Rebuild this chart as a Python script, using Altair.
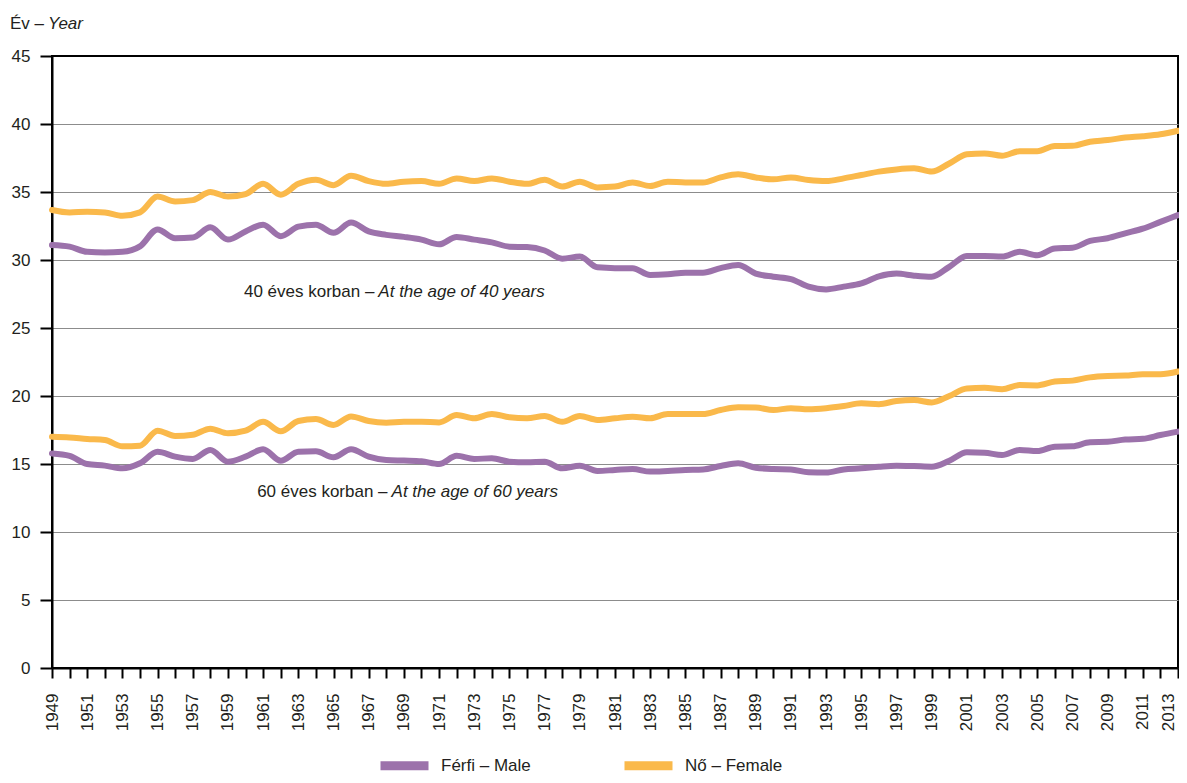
import altair as alt
import pandas as pd

# ---------------- data ----------------
years = list(range(1949, 2014))

female_40 = [33.68, 33.5, 33.55, 33.5, 33.25, 33.5, 34.66, 34.3, 34.4, 35.0,
             34.66, 34.85, 35.6, 34.8, 35.6, 35.9, 35.5, 36.2, 35.8, 35.6,
             35.76, 35.8, 35.6, 36.0, 35.8, 36.0, 35.76, 35.6, 35.9, 35.4,
             35.76, 35.34, 35.4, 35.7, 35.44, 35.76, 35.7, 35.7, 36.07, 36.3,
             36.07, 35.93, 36.07, 35.88, 35.8, 36.0, 36.25, 36.5, 36.66, 36.74,
             36.5, 37.1, 37.77, 37.84, 37.67, 38.0, 38.0, 38.38, 38.4, 38.7,
             38.82, 39.0, 39.1, 39.24, 39.5]

male_40 = [31.1, 30.98, 30.6, 30.56, 30.6, 31.0, 32.25, 31.6, 31.65, 32.4,
           31.5, 32.1, 32.6, 31.75, 32.45, 32.6, 32.0, 32.75, 32.1, 31.85,
           31.7, 31.5, 31.15, 31.7, 31.5, 31.3, 30.98, 30.95, 30.7, 30.1,
           30.25, 29.46, 29.4, 29.4, 28.9, 28.95, 29.07, 29.07, 29.4, 29.63,
           29.0, 28.77, 28.6, 28.04, 27.84, 28.04, 28.28, 28.8, 29.0, 28.85,
           28.77, 29.5, 30.3, 30.3, 30.25, 30.6, 30.35, 30.85, 30.9, 31.4,
           31.6, 31.96, 32.3, 32.8, 33.3]

female_60 = [17.0, 16.95, 16.84, 16.76, 16.3, 16.35, 17.45, 17.06, 17.15, 17.6,
             17.26, 17.45, 18.1, 17.4, 18.16, 18.3, 17.87, 18.5, 18.16, 18.04,
             18.1, 18.1, 18.06, 18.6, 18.36, 18.68, 18.43, 18.36, 18.53, 18.1,
             18.53, 18.24, 18.36, 18.48, 18.36, 18.68, 18.68, 18.68, 18.97, 19.17,
             19.15, 18.97, 19.1, 19.02, 19.1, 19.26, 19.46, 19.4, 19.63, 19.7,
             19.53, 20.0, 20.56, 20.6, 20.5, 20.8, 20.78, 21.06, 21.13, 21.37,
             21.47, 21.5, 21.6, 21.6, 21.8]

male_60 = [15.78, 15.6, 15.0, 14.88, 14.68, 15.05, 15.9, 15.54, 15.37, 16.03,
           15.17, 15.54, 16.08, 15.24, 15.9, 15.93, 15.49, 16.08, 15.54, 15.29,
           15.25, 15.2, 15.0, 15.6, 15.37, 15.42, 15.17, 15.13, 15.17, 14.68,
           14.88, 14.49, 14.56, 14.63, 14.44, 14.49, 14.56, 14.6, 14.85, 15.05,
           14.73, 14.63, 14.6, 14.39, 14.37, 14.6, 14.68, 14.8, 14.88, 14.85,
           14.8, 15.24, 15.86, 15.83, 15.66, 16.03, 15.95, 16.27, 16.3, 16.6,
           16.63, 16.8, 16.85, 17.13, 17.38]

series_names = ["Férfi – Male", "Nő – Female"]
series_colors = ["#9c72ab", "#fab94b"]

y_ticks = [0, 5, 10, 15, 20, 25, 30, 35, 40, 45]

note_roman = ["40 éves korban –", "60 éves korban –"]
note_italic = ["At the age of 40 years", "At the age of 60 years"]
note_year = [1967.55, 1968.3]
note_value = [27.65, 12.94]

title_roman = ["Év –"]
title_italic = ["Year"]

# ---------------- build tables ----------------
rows = []
for sex, age, vals in [(series_names[0], "40", male_40),
                       (series_names[1], "40", female_40),
                       (series_names[0], "60", male_60),
                       (series_names[1], "60", female_60)]:
    for yr, v in zip(years, vals):
        rows.append({"year": yr, "value": v, "sex": sex, "age": age})
df = pd.DataFrame(rows)

notes = pd.DataFrame({"year": note_year, "value": note_value,
                      "roman": note_roman, "italic": note_italic})
ttl = pd.DataFrame({"year": [years[0]], "value": [y_ticks[-1]],
                    "roman": title_roman, "italic": title_italic})

FONT = "Liberation Sans, Arial, sans-serif"
TXT = "#231f20"

x_scale = alt.Scale(domain=[years[0], years[-1]], nice=False, zero=False)
y_scale = alt.Scale(domain=[0, 45], nice=False)

x_axis = alt.Axis(values=years, format="d",
                  labelExpr="datum.value % 2 == 1 ? datum.label : ''",
                  labelAngle=-90, labelFontSize=17, labelColor=TXT,
                  labelPadding=15, labelFlush=False, labelOverlap=False,
                  labelBound=False,
                  labelOffset={"condition": {"test": "datum.value === 2013", "value": -10},
                               "value": 0},
                  tickSize=10, tickWidth=2, tickColor="#000",
                  domainColor="#000", domainWidth=2, grid=False, title=None)

y_axis = alt.Axis(values=y_ticks, labelFontSize=17, labelColor=TXT,
                  labelPadding=10, tickSize=12, tickWidth=2, tickColor="#000",
                  domainColor="#000", domainWidth=2,
                  grid=True,
                  gridColor={"condition": {"test": "datum.value === 45", "value": "#000000"},
                             "value": "#8c8c8c"},
                  gridWidth=1.2, title=None)

X = alt.X("year:Q", scale=x_scale, axis=x_axis)
Y = alt.Y("value:Q", scale=y_scale, axis=y_axis)

lines = alt.Chart(df).mark_line(
    strokeWidth=6, interpolate="monotone", strokeCap="round", strokeJoin="round"
).encode(
    x=X, y=Y,
    color=alt.Color("sex:N",
                    scale=alt.Scale(domain=series_names, range=series_colors),
                    legend=alt.Legend(orient="none", legendX=324, legendY=681,
                                      direction="horizontal", title=None,
                                      symbolType="stroke", symbolSize=2304,
                                      symbolStrokeWidth=9, labelFontSize=17,
                                      labelColor=TXT, labelOffset=8,
                                      columnPadding=75, padding=0)),
    detail="age:N",
)

note_r = alt.Chart(notes).mark_text(
    align="right", baseline="middle", fontSize=17, color=TXT, dx=-4
).encode(x=X, y=Y, text="roman:N")

note_i = alt.Chart(notes).mark_text(
    align="left", baseline="middle", fontSize=17, color=TXT, fontStyle="italic"
).encode(x=X, y=Y, text="italic:N")

ttl_r = alt.Chart(ttl).mark_text(
    align="right", baseline="middle", fontSize=17, color=TXT, dx=-8, dy=-32
).encode(x=X, y=Y, text="roman:N")

ttl_i = alt.Chart(ttl).mark_text(
    align="left", baseline="middle", fontSize=17, color=TXT, fontStyle="italic", dx=-4, dy=-32
).encode(x=X, y=Y, text="italic:N")

chart = alt.layer(lines, note_r, note_i, ttl_r, ttl_i).properties(
    width=1126, height=612,
    padding={"left": 44, "top": 48, "right": 1, "bottom": 107},
    autosize=alt.AutoSizeParams(type="none"),
).configure(font=FONT).configure_view(
    stroke="#000", strokeWidth=2
).configure_axisX(labelOverlap=False)

chart.save("out.html", embed_options={"renderer": "svg", "actions": False})
